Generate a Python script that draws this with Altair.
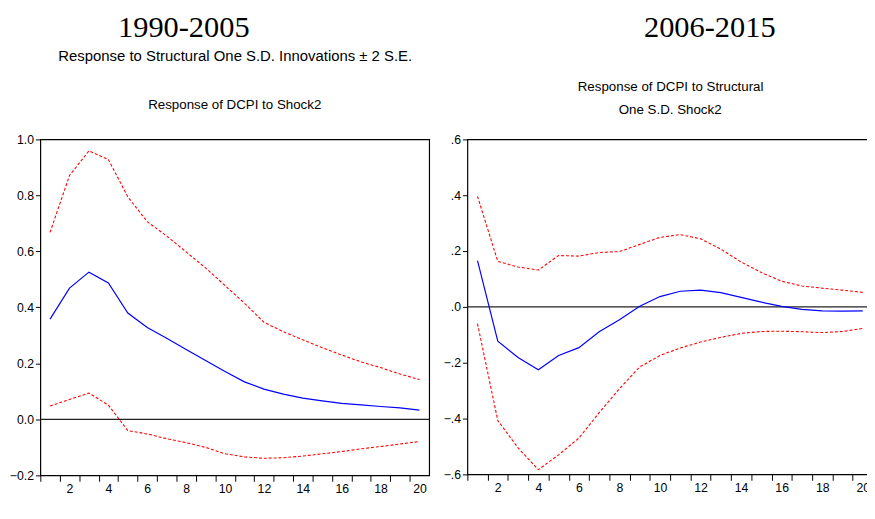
import altair as alt
import pandas as pd

periods = list(range(1, 21))

left_response = [0.358, 0.469, 0.526, 0.487, 0.380, 0.328, 0.290, 0.250, 0.210, 0.171,
                 0.134, 0.108, 0.090, 0.076, 0.066, 0.057, 0.052, 0.046, 0.041, 0.033]
left_upper = [0.668, 0.871, 0.959, 0.928, 0.795, 0.706, 0.655, 0.598, 0.541, 0.478,
              0.415, 0.347, 0.313, 0.284, 0.256, 0.230, 0.205, 0.185, 0.162, 0.142]
left_lower = [0.048, 0.071, 0.094, 0.051, -0.040, -0.052, -0.069, -0.083, -0.100, -0.123,
              -0.134, -0.139, -0.137, -0.131, -0.123, -0.115, -0.105, -0.097, -0.088, -0.079]

right_response = [0.166, -0.123, -0.181, -0.225, -0.174, -0.146, -0.089, -0.046, 0.002, 0.037,
                  0.056, 0.060, 0.051, 0.034, 0.017, 0.002, -0.009, -0.014, -0.015, -0.014]
right_upper = [0.396, 0.163, 0.143, 0.132, 0.184, 0.182, 0.195, 0.198, 0.224, 0.249,
               0.259, 0.244, 0.207, 0.161, 0.123, 0.092, 0.075, 0.067, 0.060, 0.052]
right_lower = [-0.060, -0.407, -0.505, -0.583, -0.530, -0.470, -0.379, -0.293, -0.215, -0.174,
               -0.147, -0.126, -0.109, -0.095, -0.088, -0.087, -0.089, -0.092, -0.088, -0.077]

left_yticks = [-0.2, 0.0, 0.2, 0.4, 0.6, 0.8, 1.0]
right_yticks = [-0.6, -0.4, -0.2, 0.0, 0.2, 0.4, 0.6]
x_tick_values = [i + 0.5 for i in range(0, 20)]

left_titles = [
    ("1990-2005", 146.5, -105, "serif", 31),
    ("Response to Structural One S.D. Innovations \u00b1 2 S.E.", 199, -80, "sans", 15.2),
    ("Response of DCPI to Shock2", 198.5, -31, "sans", 13.6),
]
right_titles = [
    ("2006-2015", 247.5, -105, "serif", 31),
    ("Response of DCPI to Structural", 207.5, -49, "sans", 13.6),
    ("One S.D. Shock2", 207, -26, "sans", 13.6),
]

SANS = "Liberation Sans, Arial, sans-serif"
SERIF = "Liberation Serif, Times New Roman, serif"


def panel(resp, up, lo, ydomain, yticks, ylabel_expr, width, height, titles, yextent):
    df = pd.DataFrame({
        "period": periods * 3,
        "value": resp + up + lo,
        "series": ["response"] * 20 + ["upper"] * 20 + ["lower"] * 20,
    })
    unit = width / 20.0
    xs = alt.Scale(domain=[0.5, 20.5], nice=False, zero=False)
    ys = alt.Scale(domain=ydomain, nice=False, zero=False)
    xaxis = alt.Axis(
        values=x_tick_values,
        labelExpr="(datum.value + 0.5) % 2 == 0 ? format(datum.value + 0.5, 'd') : ''",
        labelOffset=unit / 2,
        labelFlush=False,
        labelOverlap=False,
        tickSize=6,
        labelPadding=1,
        minExtent=18,
        maxExtent=18,
        title=None,
    )
    yaxis = alt.Axis(
        values=yticks,
        labelExpr=ylabel_expr,
        labelFlush=False,
        labelOverlap=False,
        tickSize=5,
        labelPadding=2,
        minExtent=yextent,
        maxExtent=yextent,
        title=None,
    )
    base = alt.Chart(df)
    blue = base.transform_filter(alt.datum.series == "response").mark_line(
        color="#0000ff", strokeWidth=1.2
    ).encode(
        x=alt.X("period:Q", scale=xs, axis=xaxis),
        y=alt.Y("value:Q", scale=ys, axis=yaxis),
    )
    red = base.transform_filter(alt.datum.series != "response").mark_line(
        color="#ff0000", strokeWidth=1.1, strokeDash=[3, 2]
    ).encode(
        x=alt.X("period:Q", scale=xs, axis=xaxis),
        y=alt.Y("value:Q", scale=ys, axis=yaxis),
        detail="series:N",
    )
    zero = alt.Chart(pd.DataFrame({"z": [0.0]})).mark_rule(
        color="#222222", strokeWidth=1.3
    ).encode(y=alt.Y("z:Q", scale=ys, axis=yaxis))
    layers = [zero, red, blue]
    for text, px, py, fam, size in titles:
        layers.append(
            alt.Chart(pd.DataFrame({"t": [text]})).mark_text(
                font=SERIF if fam == "serif" else SANS,
                fontSize=size,
                align="center",
                baseline="alphabetic",
                color="black",
            ).encode(x=alt.value(px), y=alt.value(py), text="t:N")
        )
    return alt.layer(*layers).properties(width=width, height=height)


left = panel(left_response, left_upper, left_lower, [-0.2, 1.0], left_yticks,
             "format(datum.value, '.1f')", 397, 343, left_titles, 28)
right = panel(right_response, right_upper, right_lower, [-0.6, 0.6], right_yticks,
              "replace(format(datum.value, '.1f'), '0.', '.')", 414, 342, right_titles, 22)

chart = alt.concat(left, right, columns=2, align="none", spacing=11).properties(
    padding={"left": 0, "top": -2, "right": -8, "bottom": 0},
    background="white",
).configure_view(
    stroke="black", strokeWidth=1.2
).configure_axis(
    domain=False,
    grid=False,
    tickColor="black",
    tickWidth=1,
    labelColor="black",
    labelFont=SANS,
    labelFontSize=12.5,
)

chart.save("out.html", embed_options={"renderer": "svg", "actions": False})
